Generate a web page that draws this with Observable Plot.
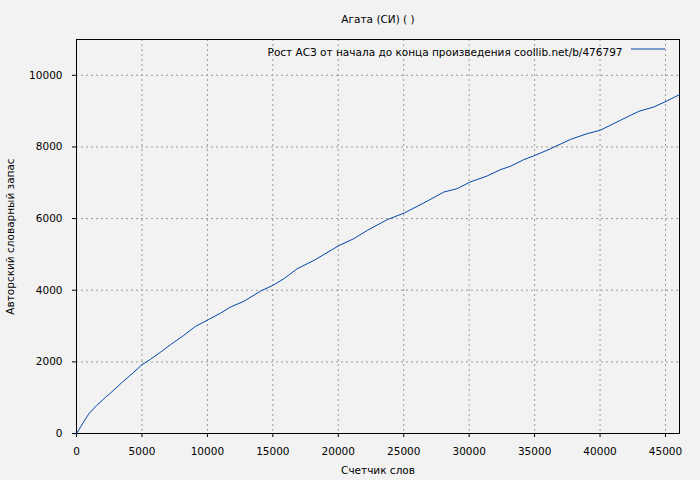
<!DOCTYPE html>
<html><head><meta charset="utf-8">
<script src="https://cdn.jsdelivr.net/npm/d3@7"></script>
<script src="https://cdn.jsdelivr.net/npm/@observablehq/plot@0.6"></script>
<style>
html,body{margin:0;padding:0;background:#f2f2f2;}
</style></head><body><div id="chart"></div>
<script>
const chartTitle = "Агата (СИ) ( )";
const xLabel = "Счетчик слов";
const yLabel = "Авторский словарный запас";
const legendLabel = "Рост АСЗ от начала до конца произведения coollib.net/b/476797";

const words = [0, 940, 1530, 2215, 2725, 3490, 4250, 5000, 5650, 6420, 7180, 8200, 9090, 10060, 11000, 11760, 12780, 14060, 15000, 15840, 16860, 18130, 20070, 21190, 22210, 23740, 25030, 26530, 28060, 29080, 30070, 31370, 32390, 33150, 34170, 35040, 36210, 37740, 39010, 40010, 41560, 42960, 44100, 45120, 46070];
const vocab = [0, 550, 780, 1010, 1170, 1430, 1670, 1920, 2070, 2270, 2480, 2740, 2990, 3175, 3360, 3530, 3690, 3975, 4135, 4320, 4600, 4830, 5250, 5440, 5670, 5970, 6155, 6435, 6740, 6835, 7020, 7190, 7365, 7460, 7645, 7765, 7950, 8210, 8370, 8465, 8745, 8995, 9115, 9285, 9460];
const xTicks = [0, 5000, 10000, 15000, 20000, 25000, 30000, 35000, 40000, 45000];
const yTicks = [0, 2000, 4000, 6000, 8000, 10000];
const xDomain = [0, 46070];
const yDomain = [0, 11000];

const data = words.map((w, i) => ({words: w, vocab: vocab[i]}));

const W = 700, H = 480, mL = 76, mR = 21, mT = 39, mB = 47;
const gridStyle = {stroke: "#999", strokeOpacity: 1, strokeDasharray: "2,3"};

const chart = Plot.plot({
  width: W, height: H,
  marginLeft: mL, marginRight: mR, marginTop: mT, marginBottom: mB,
  style: {fontFamily: "DejaVu Sans", fontSize: "10.5px", background: "#f2f2f2", color: "#000"},
  x: {domain: xDomain, ticks: xTicks, tickFormat: d => String(d)},
  y: {domain: yDomain, ticks: yTicks, tickFormat: d => String(d)},
  marks: [
    Plot.gridX(xTicks.slice(1), gridStyle),
    Plot.gridY(yTicks.slice(1), gridStyle),
    Plot.axisX({ticks: xTicks, tickSize: 4, tickPadding: 10, label: xLabel, labelAnchor: "center", labelArrow: "none", labelOffset: 40, tickFormat: d => String(d)}),
    Plot.axisY({ticks: yTicks, tickSize: 4, tickPadding: 10, label: yLabel, labelAnchor: "center", labelArrow: "none", labelOffset: 70, tickFormat: d => String(d)}),
    Plot.frame({stroke: "#000", strokeWidth: 1}),
    Plot.line(data, {x: "words", y: "vocab", stroke: "#0047ab", strokeWidth: 1}),
    Plot.text([chartTitle], {frameAnchor: "top", dy: -24, fontSize: 10.5}),
    Plot.text([legendLabel], {frameAnchor: "top-right", textAnchor: "end", dx: -57, dy: 9, fontSize: 10.5})
  ]
});

// legend line sample
d3.select(chart).append("line")
  .attr("x1", W - mR - 48).attr("x2", W - mR - 14)
  .attr("y1", mT + 10).attr("y2", mT + 10)
  .attr("stroke", "#0047ab").attr("stroke-width", 1);

document.getElementById("chart").append(chart);
</script>
</body></html>
